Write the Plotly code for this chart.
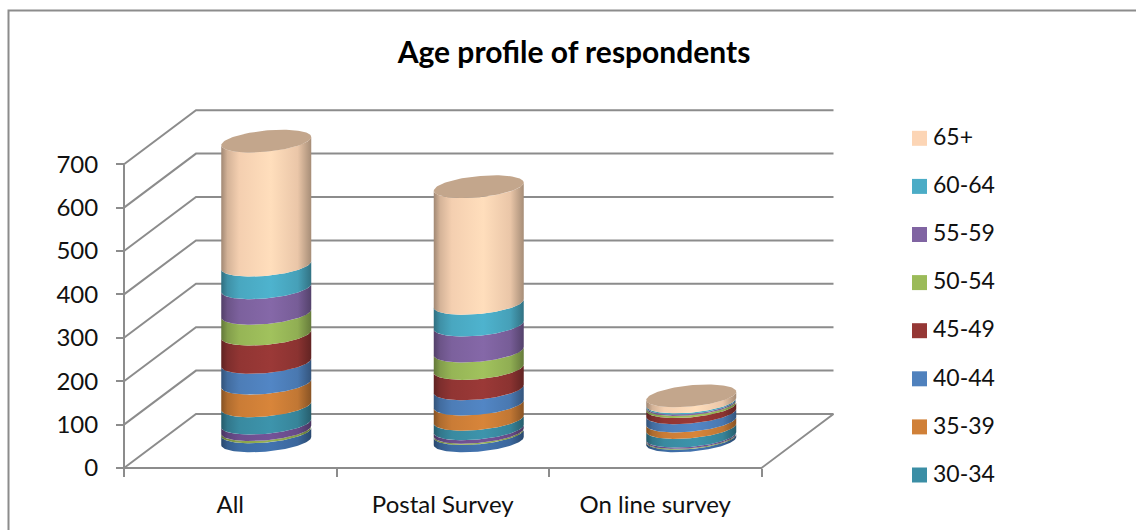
import numpy as np
import plotly.graph_objects as go

# Survey data: respondents per age band, youngest band first
categories = ["All", "Postal Survey", "On line survey"]
age_bands = ["Under 18", "18-24", "25-29", "30-34", "35-39", "40-44",
             "45-49", "50-54", "55-59", "60-64", "65+"]
under_18 = [21, 17, 6]
age_18_24 = [5, 3, 2]
age_25_29 = [15, 8, 3]
age_30_34 = [40, 22, 20]
age_35_39 = [52, 35, 15]
age_40_44 = [48, 35, 19]
age_45_49 = [65, 47, 14]
age_50_54 = [48, 40, 5]
age_55_59 = [59, 60, 3]
age_60_64 = [52, 50, 3]
age_65_plus = [286, 269, 14]
series_values = [under_18, age_18_24, age_25_29, age_30_34, age_35_39, age_40_44,
                 age_45_49, age_50_54, age_55_59, age_60_64, age_65_plus]
series_colors = ["#3F6FA8", "#8FA94E", "#6F5092", "#3B8EA5", "#D08038", "#4F81BD",
                 "#953735", "#9BBB59", "#8064A2", "#4BACC6", "#FCD5B5"]
legend_bands = ["65+", "60-64", "55-59", "50-54", "45-49", "40-44", "35-39", "30-34"]
y_ticks = [0, 100, 200, 300, 400, 500, 600, 700]

# Canvas and 3D-look geometry, in pixels
W, H = 1136, 530
X0, Y0 = 124.0, 468.0          # front-left corner of the floor
CAT_PX = 212.5                 # width of one category slot
VAL_PX = 0.434                 # pixels per respondent
DEPTH_X, DEPTH_Y = 72.0, 54.0  # offset from the front edge to the back wall
RADIUS_PX, TILT_PX, MINOR_PX = 45.0, 4.1, 10.6
GRID = "#8C8C8C"

dx = DEPTH_X / CAT_PX
dv = DEPTH_Y / VAL_PX
radius = RADIUS_PX / CAT_PX
tilt = TILT_PX / VAL_PX
minor = MINOR_PX / VAL_PX
n_cat = len(categories)


def shade(color, factor):
    rgb = [int(color[i:i + 2], 16) for i in (1, 3, 5)]
    return "rgb(%d,%d,%d)" % tuple(min(255, round(c * factor)) for c in rgb)


def barrel_scale(color):
    stops = [(0, 0.64), (0.07, 0.84), (0.2, 0.97), (0.55, 1.04), (0.85, 0.93), (1, 0.66)]
    return [[s, shade(color, f)] for s, f in stops]


def rim(center, value, t):
    return (center + radius * np.cos(t),
            value + dv / 2 + tilt * np.cos(t) + minor * np.sin(t))


fig = go.Figure()
line_style = dict(color=GRID, width=2)

# Walls: each gridline runs from the value axis to the back wall and along it
for v in y_ticks:
    fig.add_trace(go.Scatter(
        x=[0, dx, n_cat + dx], y=[v, v + dv, v + dv],
        mode="lines", line=line_style, hoverinfo="skip", showlegend=False))
# Value axis line and the floor's front and right edges
fig.add_trace(go.Scatter(
    x=[0, 0], y=[y_ticks[0], y_ticks[-1]],
    mode="lines", line=line_style, hoverinfo="skip", showlegend=False))
fig.add_trace(go.Scatter(
    x=[0, n_cat, n_cat + dx], y=[0, 0, dv],
    mode="lines", line=line_style, hoverinfo="skip", showlegend=False))

# Stacked cylinders: one gradient-filled band per age group, then the lid
front = np.linspace(np.pi, 2 * np.pi, 70)
totals = np.cumsum(np.array(series_values, dtype=float), axis=0)
for c in range(n_cat):
    center = c + 0.5 + dx / 2
    base = 0.0
    for s, band in enumerate(age_bands):
        top = totals[s][c]
        xt, yt = rim(center, top, front)
        xb, yb = rim(center, base, front[::-1])
        fig.add_trace(go.Scatter(
            x=np.concatenate([xt, xb]), y=np.concatenate([yt, yb]),
            mode="lines", line=dict(width=0), fill="toself",
            fillgradient=dict(type="horizontal", colorscale=barrel_scale(series_colors[s])),
            name=band, hoverinfo="skip", showlegend=False))
        base = top
    xl, yl = rim(center, totals[-1][c], np.linspace(0, 2 * np.pi, 120))
    fig.add_trace(go.Scatter(
        x=xl, y=yl, mode="lines", line=dict(width=0), fill="toself",
        fillcolor="#C3A68C", hoverinfo="skip", showlegend=False))

# Key on the right, drawn on a pixel-scaled overlay
legend_colors = [series_colors[age_bands.index(b)] for b in legend_bands]
legend_rows = [138.3 + 48.1 * i for i in range(len(legend_bands))]
fig.add_trace(go.Scatter(
    x=[919.5] * len(legend_bands), y=legend_rows, xaxis="x2", yaxis="y2",
    mode="markers", marker=dict(symbol="square", size=15, color=legend_colors, line=dict(width=0)),
    hoverinfo="skip", showlegend=False))
fig.add_trace(go.Scatter(
    x=[933] * len(legend_bands), y=[r + 1 for r in legend_rows], xaxis="x2", yaxis="y2",
    mode="text", text=legend_bands, textposition="middle right",
    textfont=dict(family="Lato", size=23, color="#111111"),
    hoverinfo="skip", showlegend=False))
# Chart frame, open at the canvas edges
fig.add_trace(go.Scatter(
    x=[8.5, 8.5, W], y=[H, 10.5, 10.5], xaxis="x2", yaxis="y2",
    mode="lines", line=line_style, hoverinfo="skip", showlegend=False))

fig.update_layout(
    width=W, height=H, margin=dict(l=0, r=0, t=0, b=0),
    paper_bgcolor="white", plot_bgcolor="white", showlegend=False,
    title=dict(text="<b>Age profile of respondents</b>", x=574 / W, xanchor="center",
               y=1 - 52 / H, yanchor="middle",
               font=dict(family="Lato", size=30, color="black")),
    xaxis=dict(
        range=[-X0 / CAT_PX, (W - X0) / CAT_PX], domain=[0, 1],
        anchor="free", position=(H - Y0) / H,
        tickmode="array", tickvals=[i + 0.5 for i in range(n_cat)], ticktext=categories,
        ticks="", showgrid=False, zeroline=False,
        showline=False, ticklabelstandoff=20,
        tickfont=dict(family="Lato", size=24, color="#111111"),
        minor=dict(tickmode="array", tickvals=list(range(n_cat + 1)), ticks="outside",
                   ticklen=8, tickwidth=2, tickcolor=GRID, showgrid=False),
    ),
    yaxis=dict(
        range=[(Y0 - H) / VAL_PX, Y0 / VAL_PX], domain=[0, 1],
        anchor="free", position=X0 / W,
        tickmode="array", tickvals=y_ticks, ticks="outside", ticklen=8, tickwidth=2,
        tickcolor=GRID, showgrid=False, zeroline=False, showline=False,
        ticklabelstandoff=13,
        tickfont=dict(family="Lato", size=24, color="#111111"),
    ),
    xaxis2=dict(range=[0, W], domain=[0, 1], overlaying="x", visible=False, anchor="y2"),
    yaxis2=dict(range=[H, 0], domain=[0, 1], overlaying="y", visible=False, anchor="x2"),
)

fig.write_html("out.html")
